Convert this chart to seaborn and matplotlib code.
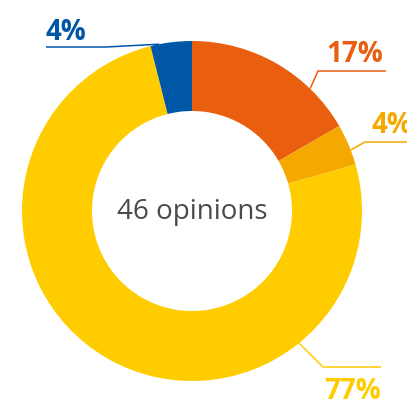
import matplotlib
matplotlib.use("Agg")
import matplotlib.pyplot as plt
import seaborn as sns
import numpy as np

# Shares of the 46 opinions, clockwise from 12 o'clock
shares = [17, 4, 77, 4]
share_labels = ["17%", "4%", "77%", "4%"]
slice_colors = ["#E95E0F", "#F5A800", "#FFCC00", "#0057A6"]
center_text = "46 opinions"

sns.set_theme(style="white")
plt.rcParams["font.family"] = ["Open Sans", "DejaVu Sans"]

W, H = 407, 401
fig = plt.figure(figsize=(W / 100, H / 100), dpi=100)
ax = fig.add_axes([0, 0, 1, 1])

# work in pixel units (y measured from the top via H - y)
cx, cy_top, R, ring = 192, 211, 170, 70
palette = sns.color_palette(slice_colors)
wedges, _ = ax.pie(
    shares, colors=palette, startangle=90, counterclock=False,
    radius=R, center=(cx, H - cy_top), frame=True,
    wedgeprops=dict(width=ring, edgecolor="none", linewidth=0),
)
ax.set_xlim(0, W)
ax.set_ylim(0, H)
ax.set_aspect("equal")
ax.axis("off")

# leader lines: anchor angle (clockwise from top), elbow, shelf end, label spot
anchor_cw = [44, 69, 141, 331]
elbows = [(318, 71), (365, 142), (323, 367), (106, 47)]
shelf_end = [386, 407, 381, 46]
label_xy = [(326, 62), (372, 133), (324, 399), (45, 40)]

bounds = np.cumsum([0] + shares) / sum(shares) * 360
for i, lab in enumerate(share_labels):
    a = np.clip(anchor_cw[i], bounds[i] + 3, bounds[i + 1] - 3)
    ax_px = cx + R * np.sin(np.radians(a))
    ay_px = cy_top - R * np.cos(np.radians(a))
    ex, ey = elbows[i]
    ax.plot([ax_px, ex, shelf_end[i]], [H - ay_px, H - ey, H - ey],
            color=slice_colors[i], lw=1.1, solid_capstyle="butt")
    tx, ty = label_xy[i]
    ax.text(tx, H - ty, lab, color=slice_colors[i], fontsize=20,
            fontweight="bold", ha="left", va="baseline")

ax.text(cx, H - 219, center_text, color="#4a4a4a", fontsize=20,
        ha="center", va="baseline")

fig.savefig("out.png", dpi=100)
